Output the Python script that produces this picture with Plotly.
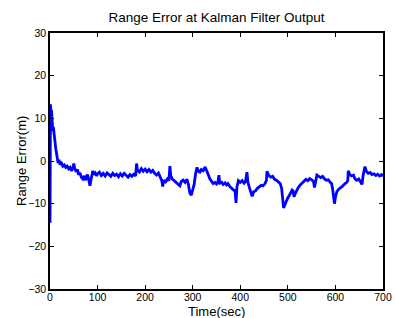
import plotly.graph_objects as go

time_sec = [0, 0.5, 1, 2, 3, 4, 5, 6, 7, 8, 10, 12, 13, 14, 15, 17, 19, 21, 24, 27, 30, 33, 36, 39, 42, 45, 48, 50, 52, 55, 58, 60, 63, 66, 69, 72, 75, 78, 80, 82, 84, 86, 88, 90, 92, 95, 98,
            100, 104, 108, 112, 116, 120, 124, 128, 132, 136, 140, 144, 148, 152, 156, 160, 164, 168, 172, 176, 180, 182, 184, 188, 192, 196, 200,
            204, 208, 212, 216, 220, 224, 228, 232, 235, 237, 239, 243, 247, 250, 252, 254, 257, 261, 265, 269, 273, 276, 280, 284, 288, 291, 294, 297, 300,
            303, 306, 309, 312, 315, 318, 322, 326, 329, 332, 336, 340, 343, 347, 350, 353, 355, 357, 361, 364, 368, 371, 374, 378, 382, 386, 389, 391, 393, 396, 400,
            404, 408, 411, 414, 416, 419, 422, 425, 428, 432, 436, 440, 444, 448, 452, 455, 456, 460, 464, 468, 472, 476, 480, 484, 487, 489, 491, 494, 497, 500,
            503, 506, 509, 511, 513, 516, 519, 522, 526, 530, 534, 538, 542, 546, 550, 554, 556, 558, 561, 565, 569, 573, 577, 581, 585, 589, 592, 594, 596, 598, 600,
            603, 607, 611, 615, 619, 623, 626, 627, 630, 634, 638, 641, 645, 649, 653, 656, 658, 660, 662, 665, 669, 673, 677, 681, 685, 689, 693, 697, 700]

range_error = [-14.5, 0.0, 13.3, 11.0, 12.0, 9.0, 10.0, 7.0, 8.0, 6.0, 5.0, 3.0, 2.0, 1.0, 1.5, -0.5, 0.3, -0.8, -0.5, -1.2, -0.9, -1.5, -1.2, -1.8, -1.5, -2.3, -1.6, -0.6, -1.8, -2.5, -2.0, -3.2, -2.8, -3.8, -4.2, -3.5, -4.5, -3.2, -3.6, -5.3, -5.8, -4.5, -3.5, -2.3, -3.2, -2.8, -3.5,
               -3.0, -2.6, -3.4, -2.9, -3.5, -2.8, -3.3, -3.6, -2.9, -3.4, -3.1, -3.7, -3.0, -3.5, -2.9, -3.4, -3.8, -3.2, -3.6, -3.1, -3.5, -0.6, -2.2, -2.6, -1.8, -2.4, -1.9,
               -2.5, -2.0, -2.6, -2.2, -2.9, -3.3, -2.8, -4.0, -4.6, -6.0, -4.5, -4.9, -4.2, -4.6, -1.2, -3.5, -4.2, -4.6, -5.0, -5.4, -5.8, -4.8, -4.5, -5.0, -4.3, -5.5, -7.5, -8.0, -6.5,
               -5.5, -3.0, -1.5, -2.4, -2.6, -2.0, -2.3, -1.4, -2.5, -3.0, -4.2, -4.8, -5.3, -5.0, -5.4, -4.9, -3.3, -5.2, -5.0, -5.5, -5.1, -5.6, -5.3, -6.0, -6.5, -6.8, -7.0, -9.8, -6.0, -4.6, -5.0,
               -4.6, -5.2, -4.8, -2.6, -5.0, -6.2, -7.5, -8.3, -7.2, -7.0, -6.4, -6.1, -5.7, -5.8, -5.3, -4.5, -2.4, -3.4, -3.8, -3.6, -4.3, -4.5, -4.9, -5.3, -6.5, -9.0, -11.0, -10.2, -9.3, -8.6,
               -8.1, -7.4, -6.8, -7.0, -8.4, -7.5, -6.8, -6.2, -5.6, -5.1, -4.8, -4.3, -4.6, -4.1, -4.4, -4.8, -6.2, -5.2, -3.3, -3.6, -3.9, -3.6, -4.2, -4.5, -4.4, -5.0, -5.3, -6.5, -8.5, -10.0, -8.5,
               -7.2, -6.6, -6.3, -5.9, -5.4, -5.1, -4.6, -2.3, -3.2, -3.5, -3.3, -4.2, -4.5, -4.2, -4.9, -5.5, -3.5, -2.4, -1.3, -2.4, -2.9, -2.7, -3.2, -3.0, -3.4, -3.1, -3.5, -3.2, -3.6]

x_ticks = [0, 100, 200, 300, 400, 500, 600, 700]
y_ticks = [-30, -20, -10, 0, 10, 20, 30]

FONT = "Liberation Sans, Arial, sans-serif"

fig = go.Figure()
fig.add_trace(go.Scatter(x=time_sec, y=range_error, mode="lines",
                         line=dict(color="rgb(0,0,255)", width=2.8), showlegend=False))

axis_common = dict(showgrid=False, zeroline=False, showline=True, linecolor="black", linewidth=1.5,
                   mirror="ticks", ticks="inside", ticklen=4, tickcolor="black", tickwidth=1,
                   automargin=False,
                   tickfont=dict(family=FONT, size=10.5, color="black"))

fig.update_layout(
    width=395, height=318,
    margin=dict(l=50, r=12, t=33, b=29),
    paper_bgcolor="white", plot_bgcolor="white",
    title=dict(text="Range Error at Kalman Filter Output", x=0.5, xref="paper", xanchor="center",
               y=1 - 17 / 318, yanchor="middle", yref="container",
               font=dict(family=FONT, size=13.5, color="black")),
    xaxis=dict(range=[0, 700], tickvals=x_ticks, ticklabelstandoff=-2, **axis_common),
    yaxis=dict(range=[-30, 30], tickvals=y_ticks, **axis_common),
    annotations=[
        dict(text="Time(sec)", xref="paper", yref="paper", x=0.5, y=0, xanchor="center", yanchor="top",
             yshift=-13, showarrow=False, font=dict(family=FONT, size=13, color="black")),
        dict(text="Range Error(m)", xref="paper", yref="paper", x=0, y=0.5, xanchor="center", yanchor="middle",
             xshift=-29, textangle=-90, showarrow=False, font=dict(family=FONT, size=13, color="black")),
    ],
)

fig.write_html("out.html", config={"displayModeBar": False},
               post_script="document.body.style.margin='0px';document.body.style.overflow='hidden';")
